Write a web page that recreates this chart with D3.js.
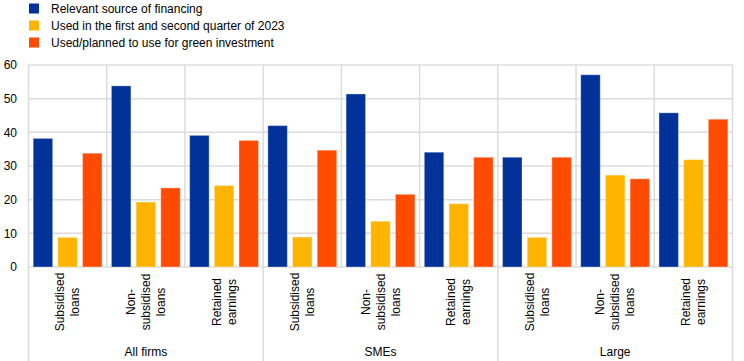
<!DOCTYPE html>
<html>
<head>
<meta charset="utf-8">
<script src="https://cdn.jsdelivr.net/npm/d3@7"></script>
<style>
  body { margin: 0; background: #fff; }
  svg { font-family: "Liberation Sans", Arial, sans-serif; }
</style>
</head>
<body>
<div id="chart"></div>
<script>
// data
var groups = ["All firms", "SMEs", "Large"];
var instruments = [["Subsidised", "loans"], ["Non-", "subsidised", "loans"], ["Retained", "earnings"]];
var seriesNames = ["Relevant source of financing", "Used in the first and second quarter of 2023", "Used/planned to use for green investment"];
var seriesColors = ["#003299", "#ffb400", "#ff4b00"];
var relevant = [38.2, 53.8, 39.1, 42.0, 51.4, 34.1, 32.6, 57.1, 45.8];
var usedH1 = [8.8, 19.3, 24.2, 8.9, 13.6, 18.8, 8.8, 27.3, 31.9];
var green = [33.8, 23.5, 37.6, 34.7, 21.6, 32.6, 32.6, 26.2, 43.9];
var yTicks = [0, 10, 20, 30, 40, 50, 60];

var width = 744, height = 361;
var plotLeft = 28.5, plotRight = 732.5, plotTop = 65, plotBottom = 267;

var svg = d3.select("#chart").append("svg")
  .attr("width", width)
  .attr("height", height);

var cats = d3.range(groups.length * instruments.length);
var values = [relevant, usedH1, green];

var x = d3.scaleBand().domain(cats).range([plotLeft, plotRight]);
var xs = d3.scaleBand().domain([0, 1, 2]).range([0, x.bandwidth()])
  .paddingInner(0.21).paddingOuter(0.19);
var y = d3.scaleLinear().domain([0, 60]).range([plotBottom, plotTop]);

// horizontal gridlines
svg.append("g").selectAll("line")
  .data(yTicks)
  .enter().append("line")
  .attr("x1", plotLeft).attr("x2", plotRight)
  .attr("y1", function(d) { return y(d); })
  .attr("y2", function(d) { return y(d); })
  .attr("stroke", "#dcdcdc")
  .attr("stroke-width", 1.5);

// vertical separators between categories
svg.append("g").selectAll("line")
  .data(d3.range(cats.length + 1))
  .enter().append("line")
  .attr("x1", function(i) { return plotLeft + i * x.step(); })
  .attr("x2", function(i) { return plotLeft + i * x.step(); })
  .attr("y1", plotTop)
  .attr("y2", function(i) { return i % 3 === 0 ? height : plotBottom; })
  .attr("stroke", "#dcdcdc")
  .attr("stroke-width", 1.5);

// y tick labels
svg.append("g").selectAll("text")
  .data(yTicks)
  .enter().append("text")
  .attr("x", 17)
  .attr("y", function(d) { return y(d); })
  .attr("dy", "0.35em")
  .attr("text-anchor", "end")
  .style("font-size", "12px")
  .attr("fill", "#000")
  .text(function(d) { return d; });

// bars
values.forEach(function(vals, s) {
  svg.append("g").selectAll("rect")
    .data(vals)
    .enter().append("rect")
    .attr("x", function(d, i) { return x(i) + xs(s); })
    .attr("y", function(d) { return y(d); })
    .attr("width", xs.bandwidth())
    .attr("height", function(d) { return y(0) - y(d); })
    .attr("fill", seriesColors[s])
    .attr("stroke", "#fff")
    .attr("stroke-opacity", 0.35)
    .attr("stroke-width", 1);
});

// rotated category labels
var lineH = 15;
cats.forEach(function(i) {
  var lines = instruments[i % 3];
  var cx = x(i) + x.bandwidth() / 2;
  lines.forEach(function(t, k) {
    var lx = cx + (k - (lines.length - 1) / 2) * lineH;
    svg.append("text")
      .attr("transform", "translate(" + lx + ",302) rotate(-90)")
      .attr("text-anchor", "middle")
      .attr("dy", "0.35em")
      .style("font-size", "12px")
      .attr("fill", "#000")
      .text(t);
  });
});

// group labels
svg.append("g").selectAll("text")
  .data(groups)
  .enter().append("text")
  .attr("x", function(d, g) { return plotLeft + (g * 3 + 1.5) * x.step(); })
  .attr("y", 352)
  .attr("dy", "0.35em")
  .attr("text-anchor", "middle")
  .style("font-size", "12px")
  .attr("fill", "#000")
  .text(function(d) { return d; });

// legend
var legend = svg.append("g").selectAll("g")
  .data(seriesNames)
  .enter().append("g")
  .attr("transform", function(d, i) { return "translate(29," + (8.5 + i * 17) + ")"; });

legend.append("rect")
  .attr("x", 0).attr("y", -5)
  .attr("width", 10).attr("height", 10)
  .attr("fill", function(d, i) { return seriesColors[i]; });

legend.append("text")
  .attr("x", 22)
  .attr("dy", "0.35em")
  .style("font-size", "12px")
  .attr("fill", "#000")
  .text(function(d) { return d; });
</script>
</body>
</html>
